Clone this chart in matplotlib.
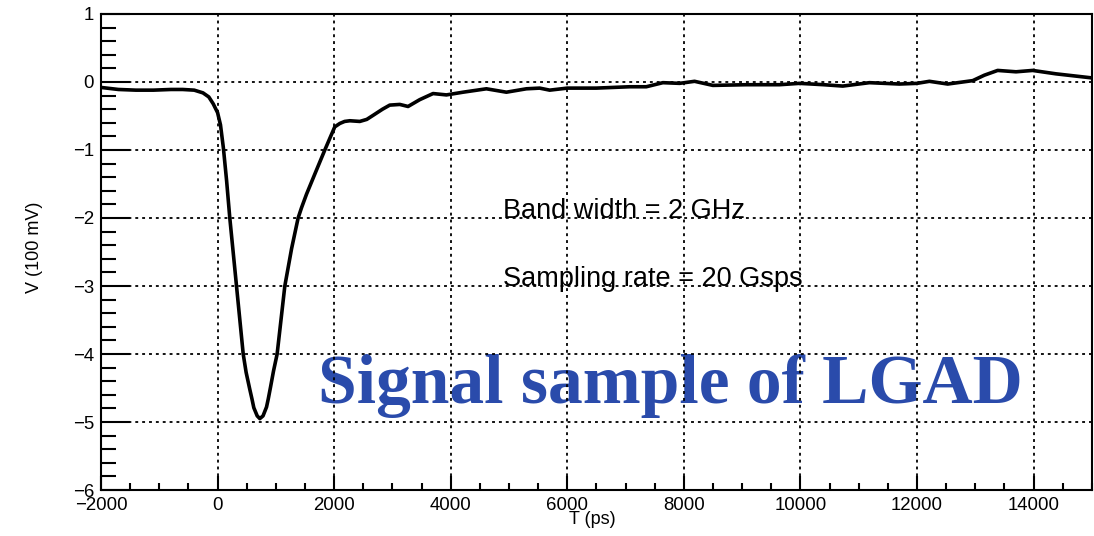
import matplotlib
matplotlib.use("Agg")
import matplotlib.pyplot as plt
from matplotlib.ticker import MultipleLocator

# waveform: time in ps, amplitude in units of 100 mV
t_ps = [-2000, -1700, -1400, -1100, -800, -600, -400, -250, -150, -75,
        0, 50, 100, 155, 210, 325, 440, 490, 553, 590, 622, 680, 725,
        780, 840, 870, 908, 960, 1022, 1154, 1270, 1382, 1440, 1526, 1680,
        1840, 1930, 2011, 2097, 2180, 2269, 2440, 2560, 2669, 2830, 2954,
        3126, 3268, 3468, 3697, 3926, 4212, 4612, 4955, 5298, 5526, 5698,
        6000, 6498, 7069, 7355, 7640, 7926, 8183, 8497, 9069, 9640, 9983,
        10400, 10726, 11183, 11698, 12000, 12212, 12526, 12955, 13155,
        13383, 13698, 13983, 14383, 15000]
v_100mV = [-0.08, -0.11, -0.12, -0.12, -0.11, -0.11, -0.12, -0.16, -0.22, -0.32,
           -0.45, -0.63, -0.97, -1.45, -2.0, -3.0, -4.0, -4.27, -4.52, -4.66, -4.79, -4.91, -4.95,
           -4.91, -4.78, -4.66, -4.49, -4.25, -4.0, -3.0, -2.45, -2.0, -1.85, -1.65, -1.33,
           -1.0, -0.82, -0.66, -0.61, -0.58, -0.57, -0.58, -0.55, -0.49, -0.40, -0.34,
           -0.33, -0.36, -0.26, -0.17, -0.19, -0.15, -0.10, -0.15, -0.10, -0.09, -0.12,
           -0.09, -0.09, -0.07, -0.07, -0.01, -0.02, 0.01, -0.05, -0.04, -0.04, -0.02,
           -0.04, -0.06, -0.01, -0.03, -0.02, 0.01, -0.03, 0.02, 0.10,
           0.17, 0.15, 0.17, 0.12, 0.06]

notes = ["Band width = 2 GHz", "Sampling rate = 20 Gsps"]
notes_y = [-2, -3]
title_text = "Signal sample of LGAD"

plt.rcParams["font.family"] = ["Liberation Sans", "DejaVu Sans"]

fig = plt.figure(figsize=(10.94, 5.36), dpi=100)
ax = fig.add_axes([0.0923, 0.0858, 0.9058, 0.8881])

ax.plot(t_ps, v_100mV, color="black", linewidth=2.6, zorder=3)

ax.set_xlim(-2000, 15000)
ax.set_ylim(-6, 1)

ax.xaxis.set_major_locator(MultipleLocator(2000))
ax.xaxis.set_minor_locator(MultipleLocator(500))
ax.yaxis.set_major_locator(MultipleLocator(1))
ax.yaxis.set_minor_locator(MultipleLocator(0.2))

ax.tick_params(axis="y", which="major", direction="in", length=21, width=1.5,
               labelsize=13.4, pad=5)
ax.tick_params(axis="y", which="minor", direction="in", length=10.5, width=1.5)
ax.tick_params(axis="x", which="major", direction="in", length=10, width=1.5,
               labelsize=13.4, pad=5)
ax.tick_params(axis="x", which="minor", direction="in", length=5, width=1.5)

for sp in ax.spines.values():
    sp.set_linewidth(1.5)

ax.grid(True, which="major", color="black", linestyle=(0, (1.6, 2.2)), linewidth=1.3)

ax.set_xlabel("T (ps)", fontsize=13)
ax.set_ylabel("V (100 mV)", fontsize=13)
ax.xaxis.set_label_coords(0.496, -0.044)
ax.yaxis.set_label_coords(-0.0586, 0.509)

for txt, yv in zip(notes, notes_y):
    ax.text(4900, yv, txt, fontsize=19.5, ha="left", va="baseline", zorder=1)

ax.text(1720, -4.725, title_text, fontsize=50, fontweight="bold",
        family=["Liberation Serif", "DejaVu Serif"], color="#2a4bab",
        ha="left", va="baseline", zorder=1)

fig.savefig("out.png", dpi=100)
